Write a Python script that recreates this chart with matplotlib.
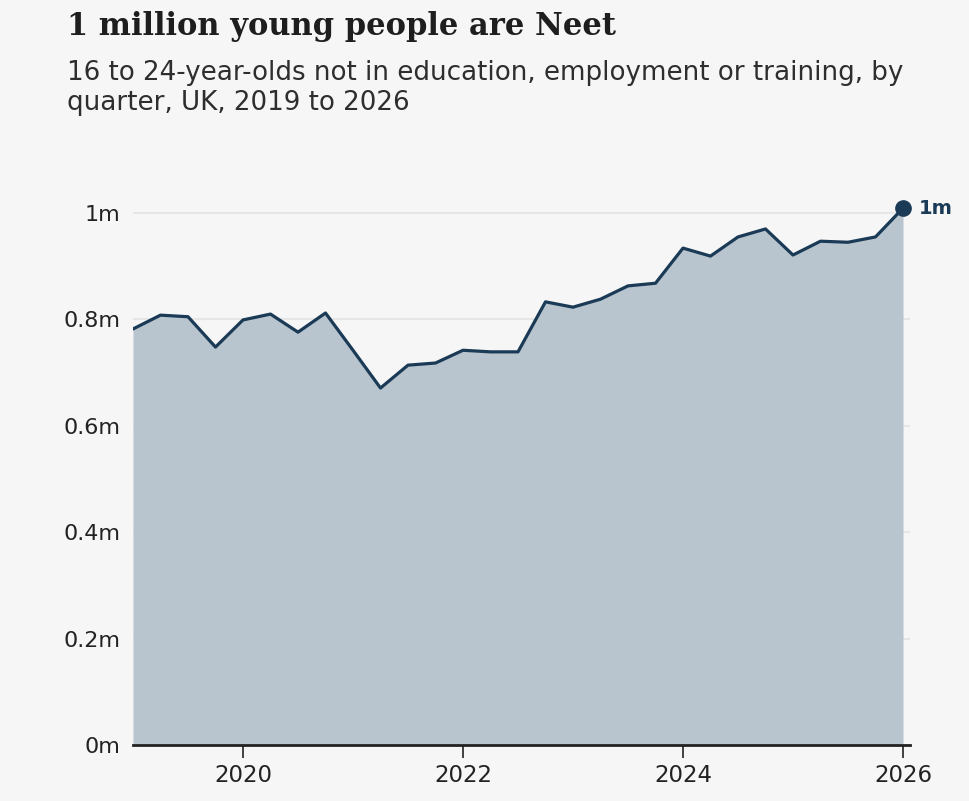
import numpy as np
import matplotlib.pyplot as plt

# quarterly values, millions of 16-24 year-olds Neet
quarters = np.arange(2019.0, 2026.01, 0.25)
neet = [0.782, 0.808, 0.805, 0.748, 0.799, 0.810, 0.776, 0.812,
        0.742, 0.671, 0.714, 0.718, 0.742, 0.739, 0.739, 0.833,
        0.823, 0.838, 0.863, 0.868, 0.934, 0.919, 0.955, 0.970,
        0.921, 0.947, 0.945, 0.955, 1.009]
yticks = [0, 0.2, 0.4, 0.6, 0.8, 1.0]
ylabels = ['0m', '0.2m', '0.4m', '0.6m', '0.8m', '1m']
xticks = [2020, 2022, 2024, 2026]

bg = '#f6f6f6'
navy = '#1a3a56'
fill = '#b8c4ce'

W, H = 970, 801
fig = plt.figure(figsize=(W / 100, H / 100), dpi=100, facecolor=bg)
ax = fig.add_axes([133 / W, (H - 745) / H, (910 - 133) / W, (745 - 186.4) / H])
ax.set_facecolor(bg)

ax.set_xlim(2019, 2019 + 7 * 777 / 770)
ax.set_ylim(0, 1.05)

ax.fill_between(quarters, neet, 0, color=fill, lw=0, zorder=2)
ax.plot(quarters, neet, color=navy, lw=2.3, zorder=3)
ax.plot(quarters[-1], neet[-1], 'o', color=navy, ms=11, zorder=4, clip_on=False)
ax.text(quarters[-1] + 0.145, neet[-1], '1m', color=navy, fontsize=14,
        fontweight='bold', va='center', ha='left')

for s in ['top', 'right', 'left']:
    ax.spines[s].set_visible(False)
ax.spines['bottom'].set_color('#222222')
ax.spines['bottom'].set_linewidth(2)
ax.spines['bottom'].set_zorder(5)

ax.set_yticks(yticks)
ax.set_yticklabels(ylabels)
ax.set_xticks(xticks)
ax.set_xticklabels([str(x) for x in xticks])
ax.tick_params(axis='y', length=0, pad=9, labelsize=16, labelcolor='#222222')
ax.tick_params(axis='x', length=9, width=1.2, color='#222222', pad=5,
               labelsize=16.5, labelcolor='#222222')
ax.grid(axis='y', color='#e6e6e6', lw=1.5, zorder=1)
ax.set_axisbelow(True)

fig.text(67 / W, 1 - 35 / H, '1 million young people are Neet', fontsize=22,
         fontweight='bold', family='DejaVu Serif', color='#1e1e1e',
         va='baseline', ha='left')
fig.text(67 / W, 1 - 80 / H, '16 to 24-year-olds not in education, employment or training, by',
         fontsize=18.8, color='#2e2e2e', va='baseline', ha='left')
fig.text(67 / W, 1 - 110 / H, 'quarter, UK, 2019 to 2026',
         fontsize=18.8, color='#2e2e2e', va='baseline', ha='left')

fig.savefig('out.png', dpi=100, facecolor=bg)
